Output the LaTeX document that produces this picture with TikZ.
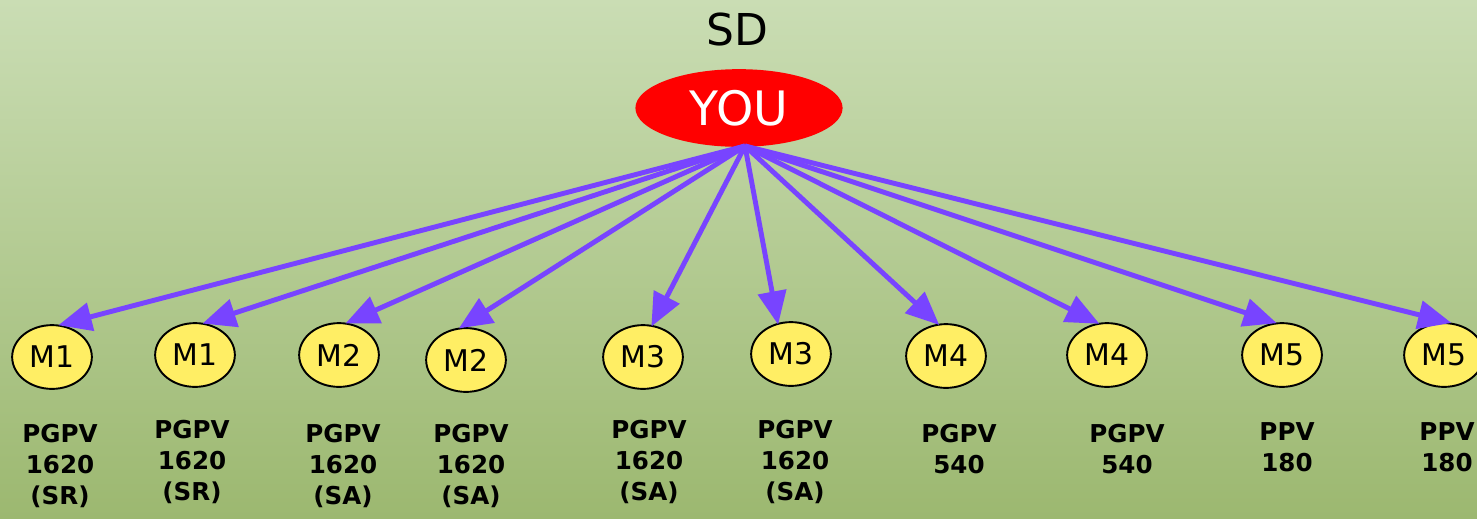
\documentclass[tikz,border=0pt]{standalone}
\usepackage{fontspec}
\setmainfont{DejaVu Sans}
\usetikzlibrary{shapes.geometric,arrows.meta}
\definecolor{bgtop}{RGB}{202,221,180}
\definecolor{bgbot}{RGB}{156,184,112}
\definecolor{arr}{RGB}{120,68,255}
\definecolor{myyel}{RGB}{255,238,100}
\newlength{\pxu}\setlength{\pxu}{0.567pt}
\tikzset{
  mnode/.style={ellipse,draw=black,line width=1.1pt,fill=myyel,minimum width=80\pxu,minimum height=64\pxu,inner sep=0pt,font=\fontsize{17pt}{19pt}\selectfont},
  lbl/.style={align=center,font=\bfseries\fontsize{14pt}{17.6pt}\selectfont},
  link/.style={draw=arr,line width=2.8pt,-{Triangle[length=19pt,width=16pt]},shorten >=-1pt}
}
\begin{document}
\begin{tikzpicture}[x=0.02cm,y=-0.02cm]
\shade[top color=bgtop,bottom color=bgbot] (0,0) rectangle (1477,518);
\useasboundingbox (0,0) rectangle (1477,518);
\node (sd) at (737,30) {\fontsize{25pt}{27pt}\selectfont SD};
\node[ellipse,fill=red,minimum width=208\pxu,minimum height=78\pxu,inner sep=0pt,text=white,font=\fontsize{27pt}{29pt}\selectfont] (you) at (739,108) {YOU};
\coordinate (hub) at (745,146);
\node[mnode] (a) at (52,357) {M1};
\node[mnode] (b) at (195,355) {M1};
\node[mnode] (c) at (339,355) {M2};
\node[mnode] (d) at (466,360) {M2};
\node[mnode] (e) at (643,357) {M3};
\node[mnode] (f) at (791,354) {M3};
\node[mnode] (g) at (946,356) {M4};
\node[mnode] (h) at (1107,355) {M4};
\node[mnode] (i) at (1282,355) {M5};
\node[mnode] (j) at (1444,355) {M5};
\foreach \t/\ang in {a/76,b/74,c/76,d/100,e/74,f/113,g/104,h/106,i/102,j/80}{\draw[link] (hub) -- (\t.\ang);}
\node[lbl] (la) at (60,466) {PGPV\\1620\\(SR)};
\node[lbl] (lb) at (192,462) {PGPV\\1620\\(SR)};
\node[lbl] (lc) at (343,466) {PGPV\\1620\\(SA)};
\node[lbl] (ld) at (471,466) {PGPV\\1620\\(SA)};
\node[lbl] (le) at (649,462) {PGPV\\1620\\(SA)};
\node[lbl] (lf) at (795,462) {PGPV\\1620\\(SA)};
\node[lbl] (lg) at (959,449) {PGPV\\540};
\node[lbl] (lh) at (1127,449) {PGPV\\540};
\node[lbl] (li) at (1287,447) {PPV\\180};
\node[lbl] (lj) at (1447,447) {PPV\\180};
\end{tikzpicture}
\end{document}
